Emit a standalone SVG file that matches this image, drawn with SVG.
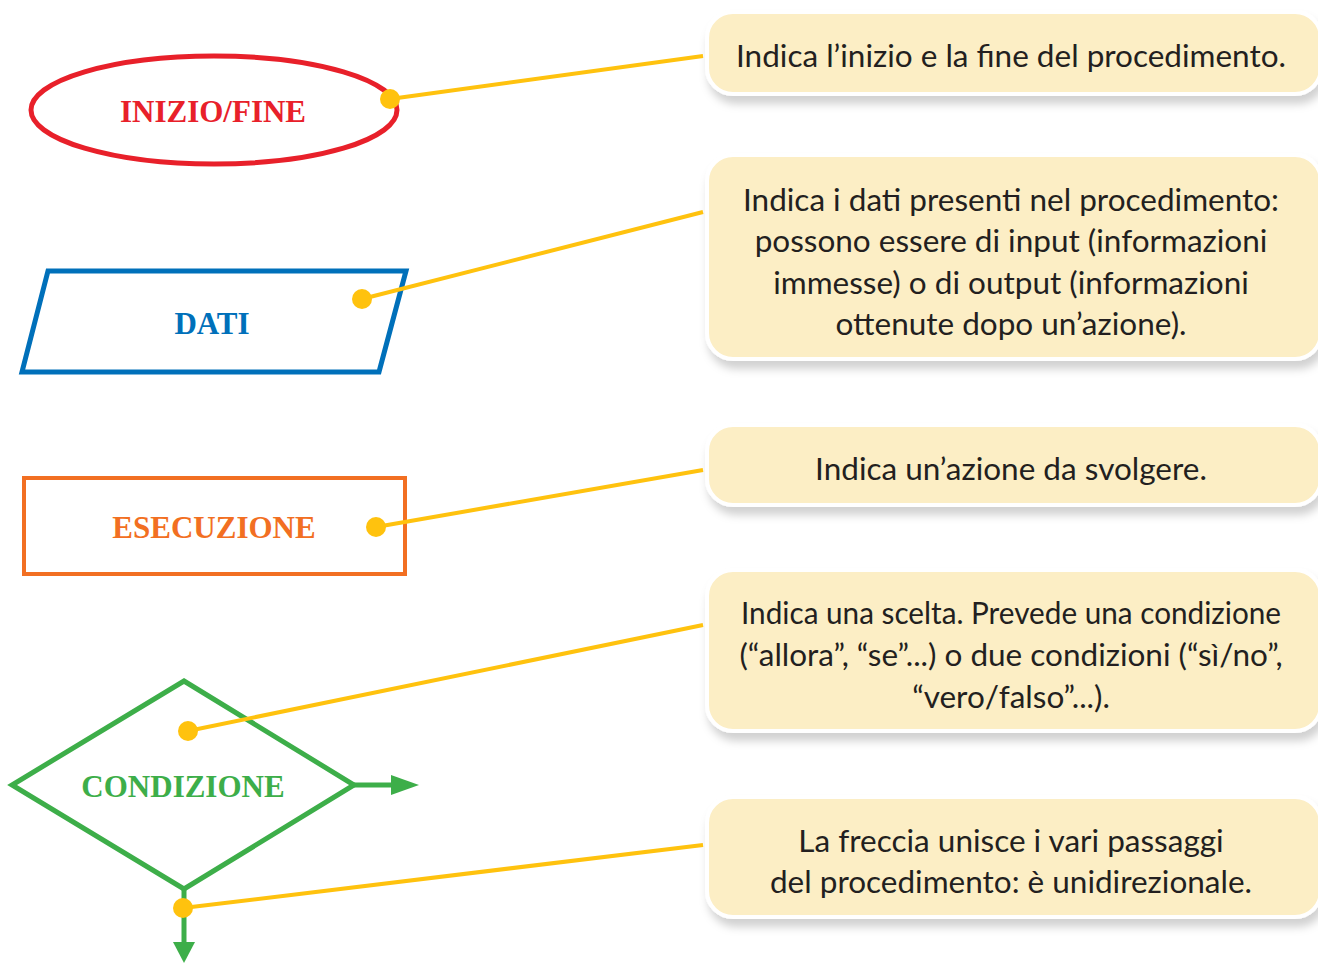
<svg xmlns="http://www.w3.org/2000/svg" width="1318" height="963" viewBox="0 0 1318 963">
<style>
.box{fill:#FCEEC5;stroke:#FFFFFF;stroke-width:4;filter:url(#sh)}
.bt{font-family:Lato,"Open Sans",sans-serif;font-size:31.5px;fill:#231F20;text-anchor:middle}
.lbl{font-family:"Liberation Serif",serif;font-weight:bold;font-size:31px;text-anchor:middle}
.con{stroke:#FFC20E;stroke-width:4;fill:none}
.dot{fill:#FFC20E}
.arr{fill:#3DAE49}
</style>
<defs>
<filter id="sh" x="-5%" y="-10%" width="115%" height="140%">
<feDropShadow dx="3" dy="8" stdDeviation="4" flood-color="#000" flood-opacity="0.18"/>
</filter>
</defs>

<g id="box1"><rect class="box" x="707" y="12" width="614" height="82" rx="26"/>
<text class="bt" x="1011" y="67">Indica l’inizio e la fine del procedimento.</text></g>
<g id="box2"><rect class="box" x="707" y="155" width="614" height="204" rx="26"/>
<text class="bt" x="1011" y="211">Indica i dati presenti nel procedimento:</text>
<text class="bt" x="1011" y="252">possono essere di input (informazioni</text>
<text class="bt" x="1011" y="294">immesse) o di output (informazioni</text>
<text class="bt" x="1011" y="335">ottenute dopo un’azione).</text></g>
<g id="box3"><rect class="box" x="707" y="425" width="614" height="80" rx="26"/>
<text class="bt" x="1011" y="480">Indica un’azione da svolgere.</text></g>
<g id="box4"><rect class="box" x="707" y="570" width="614" height="161" rx="26"/>
<text class="bt" x="1011" y="624" textLength="540" lengthAdjust="spacingAndGlyphs">Indica una scelta. Prevede una condizione</text>
<text class="bt" x="1011" y="666">(“allora”, “se”...) o due condizioni (“sì/no”,</text>
<text class="bt" x="1011" y="708">“vero/falso”...).</text></g>
<g id="box5"><rect class="box" x="707" y="797" width="614" height="120" rx="26"/>
<text class="bt" x="1011" y="852">La freccia unisce i vari passaggi</text>
<text class="bt" x="1011" y="893">del procedimento: è unidirezionale.</text></g>

<g id="inizio">
<ellipse cx="214" cy="110" rx="183" ry="54" fill="none" stroke="#E8202A" stroke-width="5"/>
<text class="lbl" x="213" y="122" fill="#E8202A">INIZIO/FINE</text></g>
<g id="dati">
<polygon points="48,271 406,271 379,372 22,372" fill="none" stroke="#0070BA" stroke-width="5"/>
<text class="lbl" x="212" y="334" fill="#0070BA">DATI</text></g>
<g id="esecuzione">
<rect x="24" y="478" width="381" height="96" fill="none" stroke="#F26F22" stroke-width="4"/>
<text class="lbl" x="214" y="538" fill="#F26F22">ESECUZIONE</text></g>
<g id="condizione">
<polygon points="184,681 354,785 184,889 12,785" fill="none" stroke="#3DAE49" stroke-width="5"/>
<text class="lbl" x="183" y="797" fill="#3DAE49">CONDIZIONE</text></g>

<g id="connectors">
<line x1="354" y1="785" x2="395" y2="785" stroke="#3DAE49" stroke-width="5"/>
<polygon class="arr" points="391,775 419,785 391,795"/>
<line x1="184" y1="889" x2="184" y2="946" stroke="#3DAE49" stroke-width="5"/>
<polygon class="arr" points="173,942 195,942 184,963"/>
<line class="con" x1="390" y1="99" x2="703" y2="56"/>
<circle class="dot" cx="390" cy="99" r="10"/>
<line class="con" x1="362" y1="299" x2="703" y2="212"/>
<circle class="dot" cx="362" cy="299" r="10"/>
<line class="con" x1="376" y1="527" x2="703" y2="470"/>
<circle class="dot" cx="376" cy="527" r="10"/>
<line class="con" x1="188" y1="731" x2="703" y2="625"/>
<circle class="dot" cx="188" cy="731" r="10"/>
<line class="con" x1="183" y1="908" x2="703" y2="845"/>
<circle class="dot" cx="183" cy="908" r="10"/>
</g>
</svg>
